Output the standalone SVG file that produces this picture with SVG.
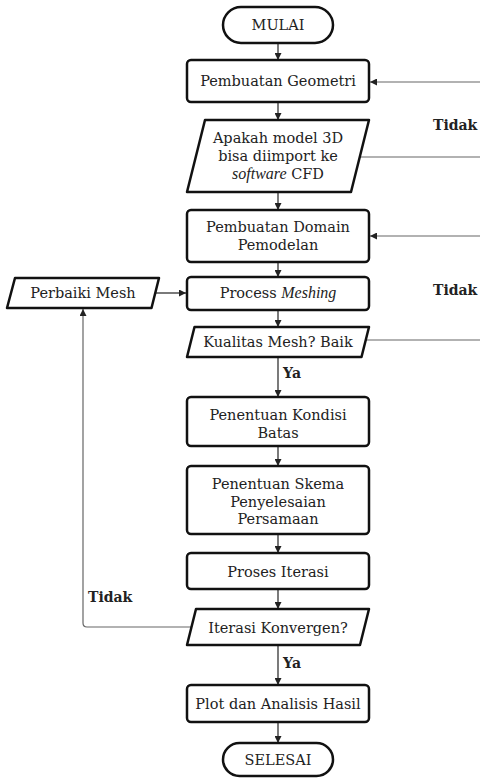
<svg xmlns="http://www.w3.org/2000/svg" width="480" height="780" viewBox="0 0 480 780">
<style>
.n{fill:#fff;stroke:#111;stroke-width:2.5;stroke-linejoin:round}
.t{font-family:"DejaVu Serif","Liberation Serif",serif;font-size:14.5px;fill:#222;text-anchor:middle}
.i{font-family:"Liberation Serif",serif;font-style:italic;font-size:16px}
.b{font-family:"DejaVu Serif","Liberation Serif",serif;font-size:14px;font-weight:bold;fill:#222}
.c{fill:none;stroke:#222;stroke-width:1.2}
.g{fill:none;stroke:#666;stroke-width:1.2}
</style>
<defs>
<marker id="ah" viewBox="0 0 10 10" refX="10" refY="5" markerWidth="7" markerHeight="7" markerUnits="userSpaceOnUse" orient="auto">
<path d="M0,0 L10,5 L0,10 z" fill="#222"/>
</marker>
</defs>
<rect width="480" height="780" fill="#fff"/>
<g id="connectors">
<line class="c" x1="278" y1="43" x2="278" y2="60" marker-end="url(#ah)"/>
<line class="c" x1="278" y1="102" x2="278" y2="120" marker-end="url(#ah)"/>
<line class="c" x1="278" y1="192" x2="278" y2="210" marker-end="url(#ah)"/>
<line class="c" x1="278" y1="262" x2="278" y2="277" marker-end="url(#ah)"/>
<line class="c" x1="278" y1="310" x2="278" y2="327" marker-end="url(#ah)"/>
<line class="c" x1="278" y1="357" x2="278" y2="397" marker-end="url(#ah)"/>
<line class="c" x1="278" y1="446" x2="278" y2="466" marker-end="url(#ah)"/>
<line class="c" x1="278" y1="534" x2="278" y2="553" marker-end="url(#ah)"/>
<line class="c" x1="278" y1="589" x2="278" y2="609" marker-end="url(#ah)"/>
<line class="c" x1="278" y1="645" x2="278" y2="685" marker-end="url(#ah)"/>
<line class="c" x1="278" y1="722" x2="278" y2="743" marker-end="url(#ah)"/>
<line class="g" x1="480" y1="82" x2="370" y2="82" marker-end="url(#ah)"/>
<line class="g" x1="359" y1="157" x2="480" y2="157"/>
<line class="g" x1="480" y1="236" x2="370" y2="236" marker-end="url(#ah)"/>
<line class="g" x1="366" y1="340" x2="480" y2="340"/>
<line class="c" x1="156" y1="293" x2="186" y2="293" marker-end="url(#ah)"/>
<path class="g" d="M191,627 H87 Q83,627 83,623 V309" marker-end="url(#ah)"/>
</g>
<g id="mulai"><rect class="n" x="223" y="7" width="110" height="36" rx="18"/><text class="t" x="278" y="30">MULAI</text></g>
<g id="geometri"><rect class="n" x="187" y="60" width="182" height="42" rx="4"/><text class="t" x="278" y="86">Pembuatan Geometri</text></g>
<g id="import"><polygon class="n" points="205,120 369,120 351,192 187,192"/><text class="t" x="278" y="143">Apakah model 3D</text><text class="t" x="278" y="161">bisa diimport ke</text><text class="t" x="278" y="179"><tspan class="i">software</tspan> CFD</text></g>
<g id="domain"><rect class="n" x="187" y="210" width="182" height="52" rx="4"/><text class="t" x="278" y="232">Pembuatan Domain</text><text class="t" x="278" y="250">Pemodelan</text></g>
<g id="meshing"><rect class="n" x="187" y="277" width="182" height="33" rx="4"/><text class="t" x="278" y="298">Process <tspan class="i">Meshing</tspan></text></g>
<g id="perbaiki"><polygon class="n" points="15,278 159,278 151.5,308 7,308"/><text class="t" x="83" y="298">Perbaiki Mesh</text></g>
<g id="kualitas"><polygon class="n" points="194.5,327 369,327 361.5,357 187,357"/><text class="t" x="278" y="347">Kualitas Mesh? Baik</text></g>
<g id="kondisi"><rect class="n" x="187" y="397" width="182" height="49" rx="4"/><text class="t" x="278" y="420">Penentuan Kondisi</text><text class="t" x="278" y="438">Batas</text></g>
<g id="skema"><rect class="n" x="187" y="466" width="182" height="68" rx="4"/><text class="t" x="278" y="489">Penentuan Skema</text><text class="t" x="278" y="507">Penyelesaian</text><text class="t" x="278" y="524">Persamaan</text></g>
<g id="iterasi"><rect class="n" x="187" y="553" width="182" height="36" rx="4"/><text class="t" x="278" y="577">Proses Iterasi</text></g>
<g id="konvergen"><polygon class="n" points="196,609 369,609 360,645 187,645"/><text class="t" x="278" y="633">Iterasi Konvergen?</text></g>
<g id="plot"><rect class="n" x="187" y="685" width="182" height="37" rx="4"/><text class="t" x="278" y="709">Plot dan Analisis Hasil</text></g>
<g id="selesai"><rect class="n" x="223" y="743" width="110" height="33" rx="16.5"/><text class="t" x="278" y="765">SELESAI</text></g>
<g id="labels">
<text class="b" x="433" y="130">Tidak</text>
<text class="b" x="433" y="295">Tidak</text>
<text class="b" x="283" y="378">Ya</text>
<text class="b" x="88" y="602">Tidak</text>
<text class="b" x="283" y="668">Ya</text>
</g>
</svg>
